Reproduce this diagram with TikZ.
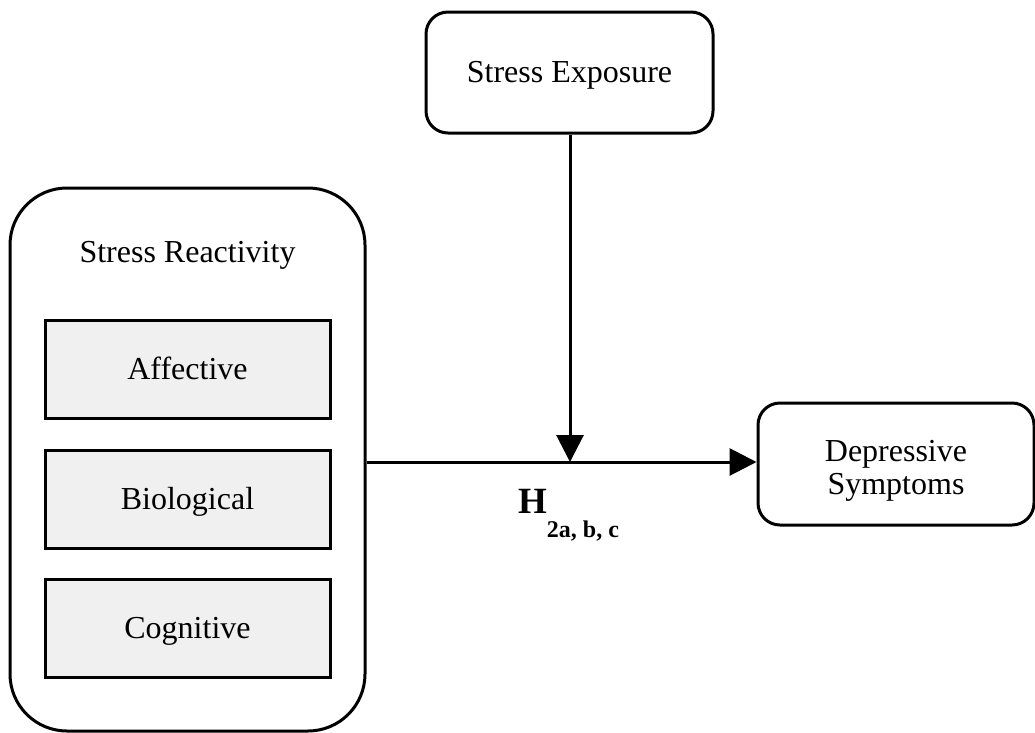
\documentclass[tikz,border=0pt]{standalone}
\usepackage{fontspec}
\setmainfont{Liberation Serif}
\usetikzlibrary{arrows.meta}
\definecolor{boxgray}{HTML}{F0F0F0}
\begin{document}
\begin{tikzpicture}[x=1pt,y=-1pt,
  txt/.style={font=\fontsize{32}{33}\selectfont, text height=20pt, text depth=0pt},
  rbox/.style={draw, line width=3pt, rounded corners=22pt, inner sep=0pt, txt},
  facet/.style={draw, line width=3pt, fill=boxgray, inner sep=0pt,
    minimum width=285pt, minimum height=98pt, txt},
  arr/.style={line width=3pt, -{Triangle[length=27pt,width=27pt]}}]
  \useasboundingbox (0,0) rectangle (1035,732);

  % outer container for the reactivity facets
  \node[draw, line width=3pt, rounded corners=57pt, minimum width=355pt,
        minimum height=543pt, inner sep=0pt] (outer) at (187.5,459.5) {};
  \node[txt, anchor=base, text height=, text depth=] (sr) at (187.5,262) {Stress Reactivity};
  \node[facet] (aff) at (187.5,369) {Affective};
  \node[facet] (bio) at (187.5,499) {Biological};
  \node[facet] (cog) at (187.5,628.5) {Cognitive};

  % moderator and outcome
  \node[rbox, minimum width=287pt, minimum height=121pt] (se) at (569.5,72.5) {Stress Exposure};
  \node[draw, line width=3pt, rounded corners=22pt, minimum width=276pt,
        minimum height=122pt, inner sep=0pt] (dep) at (896,464) {};
  \node[font=\fontsize{32}{33}\selectfont, align=center] (deptext)
        at ([yshift=-6.5pt]dep.center) {Depressive\\Symptoms};

  % paths
  \coordinate (j) at (570,462);
  \draw[arr] (outer.east |- j) -- (dep.west |- j);
  \draw[arr] (se.south -| j) -- (j);

  \node[anchor=base west, inner sep=0pt] (h) at (518,513)
    {{\fontsize{37}{37}\selectfont\textbf{H}}\raisebox{-24pt}{\fontsize{24}{24}\selectfont\textbf{2a, b, c}}};
\end{tikzpicture}
\end{document}
